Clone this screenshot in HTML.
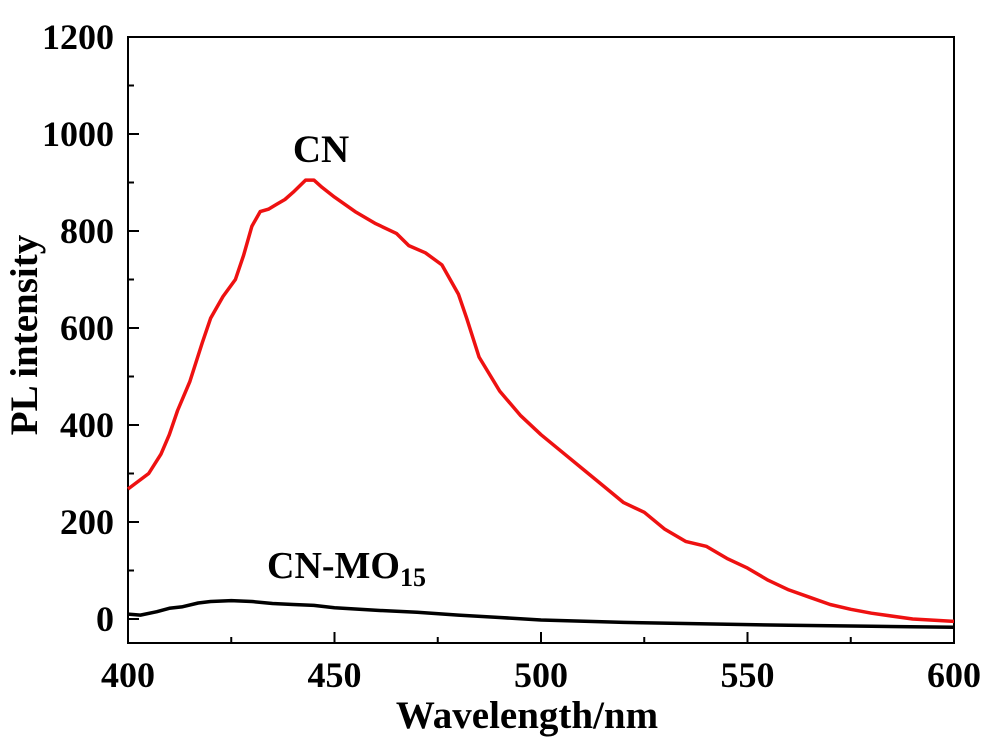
<!DOCTYPE html>
<html><head><meta charset="utf-8"><style>
body{margin:0;background:#fff}
svg text{font-family:"Liberation Serif",serif;font-weight:bold;fill:#000}
</style></head><body>
<svg id="chart" width="990" height="738" viewBox="0 0 990 738" xmlns="http://www.w3.org/2000/svg">
<g id="axes"></g>
<g id="series"></g>
<text x="321" y="162" font-size="39" text-anchor="middle">CN</text>
<text x="267" y="578" font-size="38">CN-MO<tspan font-size="26" dy="8">15</tspan></text>
<text x="527" y="728" font-size="39" text-anchor="middle">Wavelength/nm</text>
<text transform="translate(37,335) rotate(-90)" font-size="39" text-anchor="middle">PL intensity</text>
</svg>
<script>
const xTicks=[400,450,500,550,600];
const yTicks=[0,200,400,600,800,1000,1200];
const cnWl=[400,405,408,410,412,415,418,420,423,426,428,430,432,434,436,438,440,443,445,447,450,455,460,465,468,472,476,480,482,485,490,495,500,505,510,515,520,525,530,535,540,545,550,555,560,565,570,575,580,590,600];
const cnVal=[268,300,340,380,430,490,570,620,665,700,750,810,840,845,855,865,880,905,905,890,870,840,815,795,770,755,730,670,620,540,470,420,380,345,310,275,240,220,185,160,150,125,105,80,60,45,30,20,12,0,-5];
const moWl=[400,403,407,410,413,417,420,425,430,435,440,445,450,460,470,480,490,500,520,540,560,580,600];
const moVal=[10,8,15,22,25,33,36,38,36,32,30,28,23,18,14,8,3,-2,-7,-10,-13,-15,-17];
const L=128,R=954,T=37,B=643;
const X=v=>L+(v-400)/200*(R-L);
const Y=v=>619-v*0.485;
const NS='http://www.w3.org/2000/svg';
const ax=document.getElementById('axes'),sr=document.getElementById('series');
function mk(p,tag,attrs){const e=document.createElementNS(NS,tag);for(const k in attrs)e.setAttribute(k,attrs[k]);p.appendChild(e);return e;}
const fr=mk(ax,'rect',{x:L,y:T,width:R-L,height:B-T,fill:'none',stroke:'#000','stroke-width':2});


xTicks.forEach((t,i)=>{
  const l=mk(ax,'line',{x1:X(t),x2:X(t),y1:B,y2:B-11,stroke:'#000','stroke-width':2});
  
  
  if(i<xTicks.length-1){const m=mk(ax,'line',{x1:X(t+25),x2:X(t+25),y1:B,y2:B-6,stroke:'#000','stroke-width':2});
  
  }
  const tx=mk(ax,'text',{x:X(t),y:687,'font-size':36,'text-anchor':'middle'});tx.textContent=t;
  
  
});
yTicks.forEach((t,i)=>{
  const l=mk(ax,'line',{x1:L,x2:L+11,y1:Y(t),y2:Y(t),stroke:'#000','stroke-width':2});
  
  
  if(i<yTicks.length-1){const m=mk(ax,'line',{x1:L,x2:L+6,y1:Y(t+100),y2:Y(t+100),stroke:'#000','stroke-width':2});
  
  }
  const tx=mk(ax,'text',{x:114,y:Y(t)+12,'font-size':36,'text-anchor':'end'});tx.textContent=t;
  
  
});
function line(w,v,c,name){
  const d=w.map((x,i)=>(i?'L':'M')+X(x).toFixed(1)+','+Y(v[i]).toFixed(1)).join('');
  const p=mk(sr,'path',{d:d,fill:'none',stroke:c,'stroke-width':3.5,'stroke-linejoin':'round'});
  
  
}
line(cnWl,cnVal,'#ee1111','cn-line');
line(moWl,moVal,'#000','cn-mo15-line');
</script>
</body></html>
